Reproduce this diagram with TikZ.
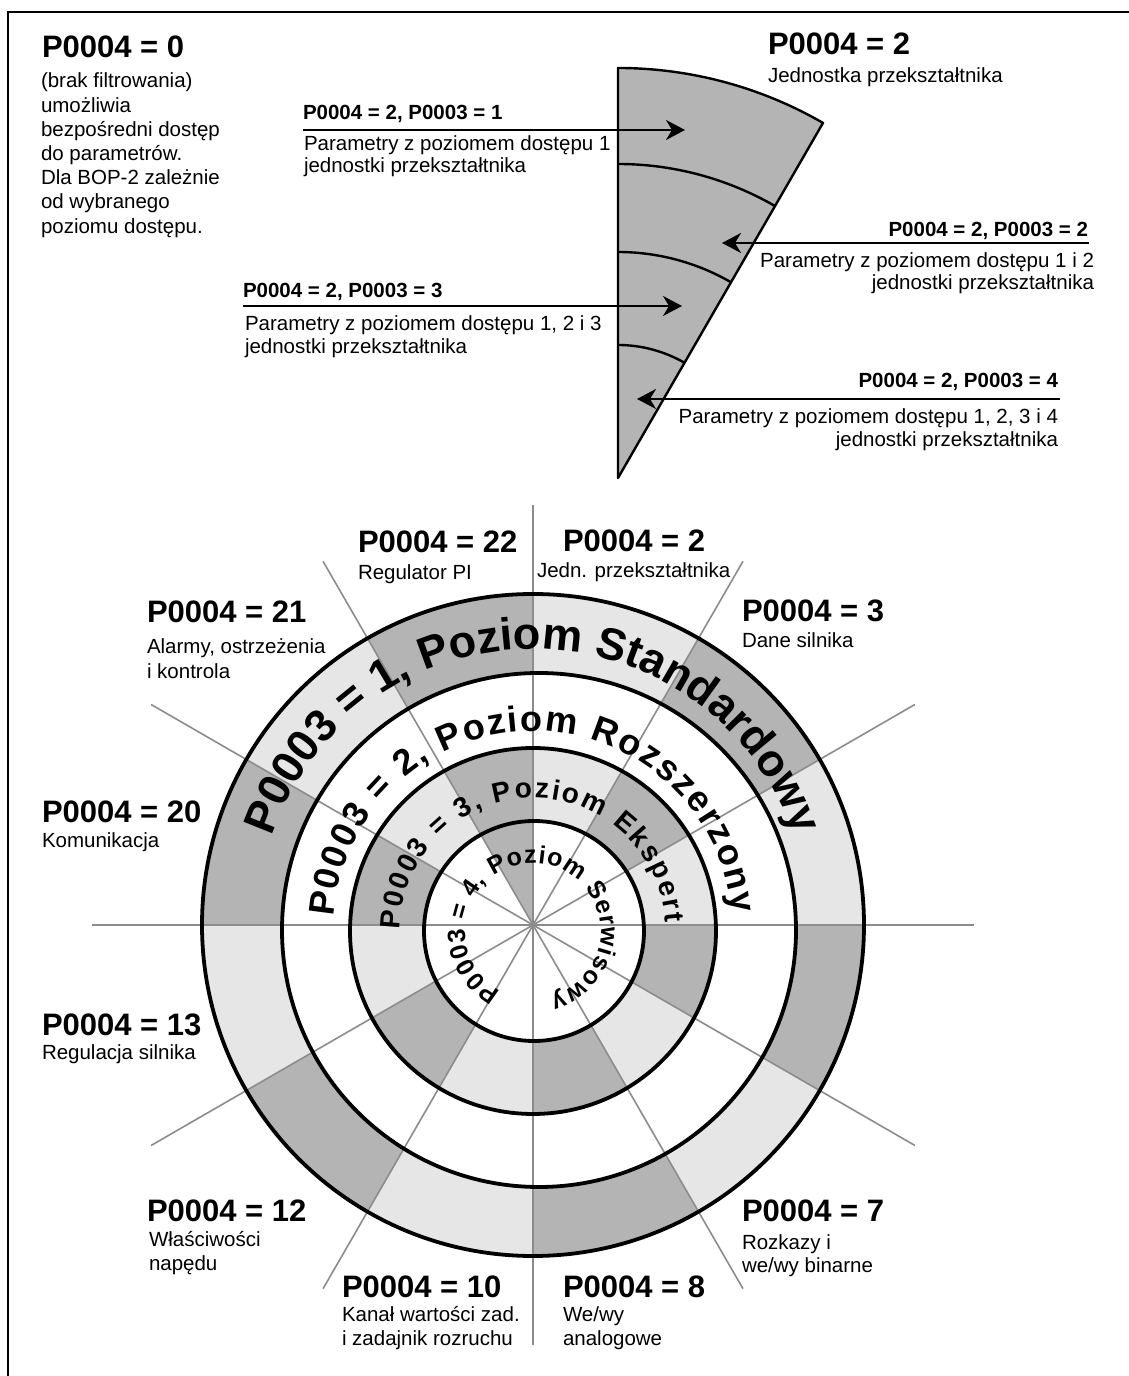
\documentclass[tikz,border=0pt]{standalone}
\usepackage{fontspec}
\setmainfont{Liberation Sans}
\usetikzlibrary{arrows.meta,decorations.text}
\definecolor{dg}{gray}{0.706}
\definecolor{lg}{gray}{0.902}
\definecolor{spk}{gray}{0.55}
\newcommand\Lft[2][24pt]{\vtop{\baselineskip=#1\lineskiplimit=-10pt\halign{##\hfil\cr#2\crcr}}}
\newcommand\Rgt[2][22pt]{\vtop{\baselineskip=#1\lineskiplimit=-10pt\halign{\hfil##\cr#2\crcr}}}
\newcommand\ringA{\bfseries\fontsize{45}{45}\selectfont}
\newcommand\ringB{\bfseries\fontsize{36}{36}\selectfont}
\newcommand\ringC{\bfseries\fontsize{28}{28}\selectfont}
\newcommand\ringD{\bfseries\fontsize{25}{25}\selectfont}
\begin{document}
\begin{tikzpicture}[x=1pt,y=1pt,
  every node/.style={inner sep=0pt,outer sep=0pt},
  small/.style={font=\fontsize{20.5}{24}\selectfont},
  title/.style={font=\bfseries\fontsize{31}{31}\selectfont},
  lab/.style={font=\bfseries\fontsize{20.5}{22}\selectfont},
  arr/.style={line width=2pt,-{Stealth[length=19pt,width=20pt,inset=6pt]}},
  spoke/.style={draw=spk,line width=1.6pt},
  ring/.style={draw=black,line width=3.8pt},
  wedgeline/.style={draw=black,line width=2.4pt}]
\useasboundingbox (0,0) rectangle (1129,1376);
\fill[white] (0,0) rectangle (1129,1376);
% frame (top and left)
\draw[line width=2pt] (8,0) -- (8,1364) -- (1129,1364);

% ---------- top-left text ----------
\node[title,anchor=base west] (t0) at (42,1318) {P0004 = 0};
\node[small,anchor=base west] (t0b) at (41,1288) {\Lft[24.2pt]{(brak filtrowania)\cr umożliwia\cr bezpośredni dostęp\cr do parametrów.\cr Dla BOP-2 zależnie\cr od wybranego\cr poziomu dostępu.}};

% ---------- wedge ----------
\coordinate (W) at (618,898);
\filldraw[fill=dg,wedgeline,line join=round] (W) -- ++(90:410) arc[start angle=90,end angle=60,radius=410] -- cycle;
\draw[wedgeline] (618,1212) arc[start angle=90,end angle=60,radius=314];
\draw[wedgeline] (618,1124) arc[start angle=90,end angle=60,radius=226];
\draw[wedgeline] (618,1031) arc[start angle=90,end angle=60,radius=133];

\node[title,anchor=base west] (w0) at (768,1321) {P0004 = 2};
\node[small,anchor=base west] (w0b) at (768,1293) {Jednostka przekształtnika};

% arrow 1
\node[lab,anchor=base west] (a1t) at (303,1256) {P0004 = 2, P0003 = 1};
\coordinate (a1s) at (303,1246);
\coordinate (a1e) at (685,1246);
\draw[arr] (a1s) -- (a1e);
\node[small,anchor=base west] (a1b) at (304,1225) {\Lft[22pt]{Parametry z poziomem dostępu 1\cr jednostki przekształtnika}};

% arrow 2
\node[lab,anchor=base east] (a2t) at (1088,1139) {P0004 = 2, P0003 = 2};
\coordinate (a2s) at (1089,1133);
\coordinate (a2e) at (722,1133);
\draw[arr] (a2s) -- (a2e);
\node[small,anchor=base east] (a2b) at (1094,1108) {\Rgt[22pt]{Parametry z poziomem dostępu 1 i 2\cr jednostki przekształtnika}};

% arrow 3
\node[lab,anchor=base west] (a3t) at (243,1078) {P0004 = 2, P0003 = 3};
\coordinate (a3s) at (243,1070);
\coordinate (a3e) at (682,1070);
\draw[arr] (a3s) -- (a3e);
\node[small,anchor=base west] (a3b) at (245,1045) {\Lft[22.5pt]{Parametry z poziomem dostępu 1, 2 i 3\cr jednostki przekształtnika}};

% arrow 4
\node[lab,anchor=base east] (a4t) at (1058,988) {P0004 = 2, P0003 = 4};
\coordinate (a4s) at (1060,977);
\coordinate (a4e) at (637,977);
\draw[arr] (a4s) -- (a4e);
\node[small,anchor=base east] (a4b) at (1058,952) {\Rgt[22.5pt]{Parametry z poziomem dostępu 1, 2, 3 i 4\cr jednostki przekształtnika}};

% ---------- circle diagram ----------
\coordinate (O) at (533,451);
\coordinate (C1) at (533,451);
\coordinate (C2) at (539,446);
\coordinate (C3) at (533,445);
\coordinate (C4) at (534,445);

% ring 1 fill
\begin{scope}[even odd rule]
\clip (C1) circle[radius=331] (C2) circle[radius=257];
\fill[lg] (C1) circle[radius=340];
\foreach \a in {30,90,150,210,270,330}
  \fill[dg] (O) -- ++(\a:460) arc[start angle=\a,end angle=\a+30,radius=460] -- cycle;
\end{scope}
% ring 3 fill
\begin{scope}[even odd rule]
\clip (C3) circle[radius=183] (C4) circle[radius=110];
\fill[lg] (C3) circle[radius=190];
\foreach \a in {30,90,150,210,270,330}
  \fill[dg] (O) -- ++(\a:460) arc[start angle=\a,end angle=\a+30,radius=460] -- cycle;
\end{scope}
% inner sector
\begin{scope}
\clip (C4) circle[radius=110];
\fill[dg] (O) -- ++(90:200) arc[start angle=90,end angle=120,radius=200] -- cycle;
\end{scope}

% spokes
\foreach \a/\r in {0/441,30/441,60/420,90/420,120/420,150/441,180/441,210/441,240/420,270/420,300/420,330/441}
  \draw[spoke] (O) -- ++(\a:\r);

% circles
\draw[ring] (C1) circle[radius=331];
\draw[ring] (C2) circle[radius=257];
\draw[ring] (C3) circle[radius=183];
\draw[ring] (C4) circle[radius=110];

% ring texts
\begin{scope}[shift={(533,451)}]
\path[decorate,decoration={text along path,text={|\ringA|P0003 = 1, Poziom Standardowy},text align=center}]
  (176:276) arc[start angle=176,end angle=4,radius=276];
\end{scope}
\begin{scope}[shift={(533,445)}]
\path[decorate,decoration={text along path,text={|\ringB|P0003 = 2, Poziom Rozszerzony},text align={fit to path}}]
  (176:200) arc[start angle=176,end angle=5,radius=200];
\path[decorate,decoration={text along path,text={|\ringC|P0003 = 3, Poziom Ekspert},text align={fit to path}}]
  (179.5:133) arc[start angle=179.5,end angle=3.5,radius=133];
\path[decorate,decoration={text along path,text={|\ringD|P0003 = 4, Poziom Serwisowy},text align={fit to path}}]
  (242:68) arc[start angle=242,end angle=-75,radius=68];
\end{scope}

% labels around circle
\node[title,anchor=base west] (l22) at (358,823) {P0004 = 22};
\node[small,anchor=base west] (l22b) at (358,796) {Regulator PI};
\node[title,anchor=base west] (l2) at (563,824) {P0004 = 2};
\node[small,anchor=base west] (l2b) at (537,798) {Jedn. przekształtnika};
\node[title,anchor=base west] (l3) at (742,754) {P0004 = 3};
\node[small,anchor=base west] (l3b) at (742,728) {Dane silnika};
\node[title,anchor=base west] (l21) at (147,753) {P0004 = 21};
\node[small,anchor=base west] (l21b) at (147,722) {\Lft[24.5pt]{Alarmy, ostrzeżenia\cr i kontrola}};
\node[title,anchor=base west] (l20) at (42,553) {P0004 = 20};
\node[small,anchor=base west] (l20b) at (42,528) {Komunikacja};
\node[title,anchor=base west] (l13) at (42,340) {P0004 = 13};
\node[small,anchor=base west] (l13b) at (42,316) {Regulacja silnika};
\node[title,anchor=base west] (l12) at (147,154) {P0004 = 12};
\node[small,anchor=base west] (l12b) at (149,129) {\Lft[23.5pt]{Właściwości\cr napędu}};
\node[title,anchor=base west] (l10) at (342,78) {P0004 = 10};
\node[small,anchor=base west] (l10b) at (342,54) {\Lft[24pt]{Kanał wartości zad.\cr i zadajnik rozruchu}};
\node[title,anchor=base west] (l8) at (563,78) {P0004 = 8};
\node[small,anchor=base west] (l8b) at (563,54) {\Lft[24pt]{We/wy\cr analogowe}};
\node[title,anchor=base west] (l7) at (742,154) {P0004 = 7};
\node[small,anchor=base west] (l7b) at (742,126) {\Lft[23pt]{Rozkazy i\cr we/wy binarne}};
\end{tikzpicture}
\end{document}
